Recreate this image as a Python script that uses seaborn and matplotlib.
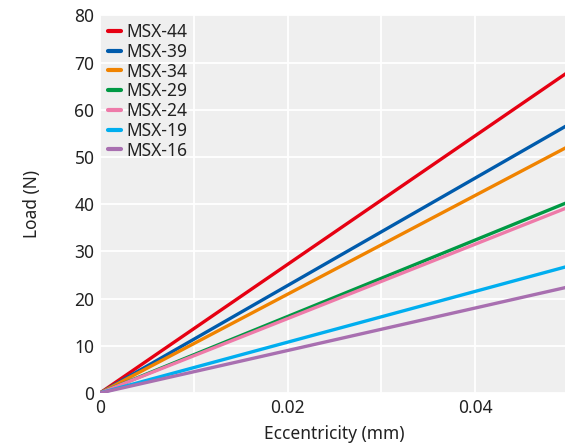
import matplotlib
matplotlib.use("Agg")
import matplotlib.pyplot as plt
import seaborn as sns
import pandas as pd

series = ["MSX-44", "MSX-39", "MSX-34", "MSX-29", "MSX-24", "MSX-19", "MSX-16"]
x_vals = [0.0, 0.05]
end_loads = [68.1, 56.9, 52.3, 40.5, 39.4, 26.9, 22.5]
colors = ["#E60012", "#005BAC", "#F08300", "#009944", "#EE7AA9", "#00AEEF", "#A86FB0"]

rows = []
for name, end in zip(series, end_loads):
    for x in x_vals:
        rows.append({"Eccentricity": x, "Load": end * x / 0.05, "Series": name})
df = pd.DataFrame(rows)

sns.set_theme(style="darkgrid", rc={"axes.facecolor": "#EFEFEF",
                                     "grid.color": "white", "grid.linewidth": 1.3})
plt.rcParams["font.family"] = ["Noto Sans", "DejaVu Sans"]

fs = 12.5
fig = plt.figure(figsize=(5.65, 4.47), dpi=100)
ax = fig.add_axes([0.177, 0.1208, 0.83, 0.845])
sns.lineplot(data=df, x="Eccentricity", y="Load", hue="Series", hue_order=series,
             palette=dict(zip(series, colors)), linewidth=2.4, ax=ax)

ax.set_xlim(0, 0.05)
ax.set_ylim(0, 80)
ax.set_xticks([0, 0.01, 0.02, 0.03, 0.04, 0.05])
ax.set_xticklabels(["0", "", "0.02", "", "0.04", ""])
ax.set_yticks(range(0, 81, 10))
ax.tick_params(axis="both", labelsize=fs, length=0, pad=4, colors="#222222")
ax.set_xlabel("Eccentricity (mm)", fontsize=fs, color="#222222", labelpad=6)
ax.set_ylabel("Load (N)", fontsize=fs, color="#222222", labelpad=24)
for s in ax.spines.values():
    s.set_visible(False)

leg = ax.legend(loc="upper left", frameon=False, fontsize=fs, handlelength=0.75,
                handletextpad=0.3, labelspacing=0.1, borderaxespad=0.0,
                borderpad=0.45, bbox_to_anchor=(0.0, 1.0))
for line in leg.get_lines():
    line.set_linewidth(3)
for t in leg.get_texts():
    t.set_color("#222222")

fig.savefig("out.png", dpi=100)
